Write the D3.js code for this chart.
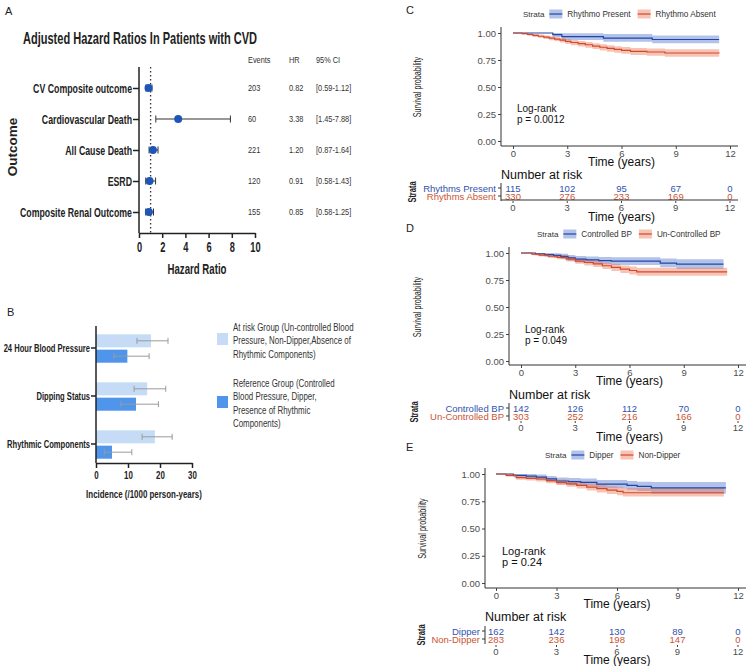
<!DOCTYPE html>
<html>
<head>
<meta charset="utf-8">
<script src="https://cdn.jsdelivr.net/npm/d3@7"></script>
<style>body{margin:0;background:#fff}</style>
</head>
<body>
<div id="fig"></div>
<script>
// ---------------- panel A : forest plot ----------------
const outcomes = ["CV Composite outcome", "Cardiovascular Death", "All Cause Death", "ESRD", "Composite Renal Outcome"]
const events = [203, 60, 221, 120, 155]
const hr = [0.82, 3.38, 1.20, 0.91, 0.85]
const ciLow = [0.59, 1.45, 0.87, 0.58, 0.58]
const ciHigh = [1.12, 7.88, 1.64, 1.43, 1.25]
const ciText = ["[0.59-1.12]", "[1.45-7.88]", "[0.87-1.64]", "[0.58-1.43]", "[0.58-1.25]"]
const hrTicks = [0, 2, 4, 6, 8, 10]

// ---------------- panel B : incidence bars ----------------
const groups = ["24 Hour Blood Pressure", "Dipping Status", "Rhythmic Components"]
const atRisk = [17.2, 16.0, 18.4]
const atRiskLo = [12.8, 11.9, 14.4]
const atRiskHi = [22.5, 21.8, 23.8]
const reference = [9.8, 12.5, 5.0]
const referenceLo = [5.6, 7.8, 2.6]
const referenceHi = [16.6, 19.5, 11.2]
const incTicks = [0, 10, 20, 30]
const legendRisk = ["At risk Group (Un-controlled Blood", "Pressure, Non-Dipper,Absence of", "Rhythmic Components)"]
const legendRef = ["Reference Group (Controlled", "Blood Pressure, Dipper,", "Presence of Rhythmic", "Components)"]

// ---------------- panels C-E : Kaplan-Meier ----------------
const survTicks = [0, 0.25, 0.5, 0.75, 1]
const timeTicks = [0, 3, 6, 9, 12]

// C  rhythmic components
const cPresentTime = [0, 2.2, 2.7, 5.0, 7.7, 11.4]
const cPresentSurv = [1, 0.985, 0.966, 0.952, 0.94, 0.94]
const cPresentLow = [1, 0.962, 0.935, 0.92, 0.905, 0.905]
const cPresentHigh = [1, 1, 0.998, 0.99, 0.978, 0.978]
const cAbsentTime = [0, 0.5, 0.8, 1.1, 1.4, 1.7, 2.0, 2.3, 2.6, 2.9, 3.2, 3.6, 4.0, 4.4, 4.8, 5.2, 5.6, 6.0, 6.5, 7.4, 8.4, 11.4]
const cAbsentSurv = [1, 0.994, 0.986, 0.978, 0.970, 0.962, 0.953, 0.944, 0.934, 0.922, 0.912, 0.902, 0.891, 0.879, 0.868, 0.857, 0.848, 0.839, 0.830, 0.824, 0.815, 0.812]
const cAbsentLow = [1, 0.986, 0.975, 0.964, 0.954, 0.945, 0.934, 0.923, 0.912, 0.899, 0.887, 0.876, 0.864, 0.851, 0.839, 0.827, 0.817, 0.807, 0.797, 0.790, 0.779, 0.775]
const cAbsentHigh = [1, 1, 0.997, 0.991, 0.985, 0.978, 0.971, 0.964, 0.955, 0.945, 0.936, 0.927, 0.917, 0.906, 0.896, 0.886, 0.878, 0.870, 0.862, 0.857, 0.849, 0.847]
const cRiskPresent = [115, 102, 95, 67, 0]
const cRiskAbsent = [330, 276, 233, 169, 0]

// D  24h blood pressure
const dCtrlTime = [0, 0.8, 1.3, 1.8, 2.2, 2.6, 3.0, 3.6, 4.3, 5.0, 7.7, 8.6, 11.2]
const dCtrlSurv = [1, 0.993, 0.985, 0.978, 0.968, 0.955, 0.944, 0.937, 0.93, 0.924, 0.907, 0.897, 0.897]
const dCtrlLow = [1, 0.98, 0.967, 0.957, 0.944, 0.928, 0.915, 0.905, 0.896, 0.888, 0.867, 0.853, 0.853]
const dCtrlHigh = [1, 1, 1, 0.998, 0.992, 0.982, 0.973, 0.968, 0.963, 0.96, 0.948, 0.941, 0.941]
const dUnTime = [0, 0.6, 1.0, 1.5, 2.0, 2.5, 3.0, 3.5, 4.0, 4.5, 5.0, 5.5, 6.0, 6.4, 11.4]
const dUnSurv = [1, 0.99, 0.98, 0.97, 0.96, 0.943, 0.925, 0.912, 0.9, 0.882, 0.866, 0.85, 0.838, 0.826, 0.826]
const dUnLow = [1, 0.98, 0.967, 0.954, 0.941, 0.921, 0.9, 0.885, 0.871, 0.851, 0.833, 0.815, 0.802, 0.789, 0.789]
const dUnHigh = [1, 1, 0.993, 0.986, 0.979, 0.965, 0.95, 0.939, 0.929, 0.913, 0.899, 0.885, 0.874, 0.863, 0.863]
const dRiskCtrl = [142, 126, 112, 70, 0]
const dRiskUn = [303, 252, 216, 166, 0]

// E  dipping status
const eDipTime = [0, 0.86, 1.5, 2.0, 2.5, 3.0, 3.6, 4.2, 5.0, 6.5, 7.0, 7.7, 11.4]
const eDipSurv = [1, 0.988, 0.98, 0.972, 0.955, 0.936, 0.93, 0.924, 0.908, 0.896, 0.887, 0.872, 0.872]
const eDipLow = [1, 0.97, 0.958, 0.948, 0.928, 0.905, 0.897, 0.889, 0.87, 0.856, 0.845, 0.818, 0.818]
const eDipHigh = [1, 1, 1, 0.996, 0.982, 0.967, 0.963, 0.959, 0.946, 0.936, 0.929, 0.927, 0.927]
const eNonTime = [0, 0.5, 1.0, 1.5, 2.0, 2.5, 3.0, 3.5, 4.0, 4.5, 5.0, 5.5, 6.0, 6.3, 11.3]
const eNonSurv = [1, 0.988, 0.966, 0.96, 0.954, 0.94, 0.924, 0.91, 0.896, 0.88, 0.865, 0.852, 0.841, 0.828, 0.828]
const eNonLow = [1, 0.975, 0.948, 0.94, 0.932, 0.916, 0.898, 0.882, 0.866, 0.848, 0.831, 0.817, 0.804, 0.794, 0.794]
const eNonHigh = [1, 1, 0.984, 0.98, 0.976, 0.964, 0.95, 0.938, 0.926, 0.912, 0.899, 0.888, 0.878, 0.871, 0.871]
const eRiskDip = [162, 142, 130, 89, 0]
const eRiskNon = [283, 236, 198, 147, 0]

// no condensed face installed -> squeeze Liberation Sans horizontally
const SANS = "'Liberation Sans',Arial,sans-serif"
const BLUE = "#2346a6", RED = "#d2492a"
const BLUE_BAND = "#5478cc", RED_BAND = "#ec7a5c"
const BLUE_TXT = "#2f52ae", RED_TXT = "#cc5430"

const svg = d3.select("#fig").append("svg")
	.attr("width", 750).attr("height", 666)
	.style("background", "#fff")

function txt(g, x, y, s, o = {}) {
	return g.append("text")
		.attr("transform", `translate(${x},${y}) rotate(${o.rot || 0}) scale(${o.sx || 1},1)`)
		.text(s)
		.attr("font-family", SANS)
		.attr("font-size", o.fs || 10)
		.attr("font-weight", o.fw || "normal")
		.attr("fill", o.fill || "#222")
		.attr("text-anchor", o.anchor || "start")
		.attr("dominant-baseline", "central")
}
// squeeze the tick texts an axis generator made
function squeeze(sel, sx, fs, left) {
	sel.selectAll("text").each(function () {
		const t = d3.select(this)
		if (left) t.attr("x", +t.attr("x") / sx)
		t.attr("transform", `scale(${sx},1)`)
	})
		.attr("font-family", SANS).attr("font-weight", "bold").attr("font-size", fs).attr("fill", "#222")
}

// ================= A =================
const gA = svg.append("g")
txt(gA, 5, 11, "A", { fs: 11 })
txt(gA, 140, 39, "Adjusted Hazard Ratios In Patients with CVD", { fw: "bold", fs: 16, sx: 0.69, anchor: "middle" })

const fx = d3.scaleLinear().domain([0, 10]).range([139, 255])
const fy = d3.scalePoint().domain(outcomes).range([88, 212])

gA.append("line").attr("x1", 139).attr("x2", 139).attr("y1", 67).attr("y2", 233).attr("stroke", "#222").attr("stroke-width", 1.5)
gA.append("g").attr("transform", "translate(139,0)")
	.call(d3.axisLeft(fy).tickSize(6).tickPadding(1))
	.call(g => g.select(".domain").remove())
	.call(g => g.selectAll("line").attr("stroke", "#222").attr("stroke-width", 1.5))
	.call(g => squeeze(g, 0.65, 13.5, true))
gA.append("g").attr("transform", "translate(0,233)")
	.call(d3.axisBottom(fx).tickValues(hrTicks).tickSize(5).tickSizeOuter(0).tickPadding(4))
	.call(g => g.selectAll("path,line").attr("stroke", "#222").attr("stroke-width", 1.5))
	.call(g => squeeze(g, 0.66, 14, false))
txt(gA, 197, 269, "Hazard Ratio", { fw: "bold", fs: 14, sx: 0.69, anchor: "middle" })
txt(gA, 12, 147, "Outcome", { fw: "bold", fs: 13.5, rot: -90, anchor: "middle" })

gA.append("line").attr("x1", fx(1)).attr("x2", fx(1)).attr("y1", 67).attr("y2", 233)
	.attr("stroke", "#333").attr("stroke-width", 1.3).attr("stroke-dasharray", "1.5,2.5")

const rowsA = gA.selectAll(".row").data(outcomes).join("g")
rowsA.append("line").attr("x1", (d, i) => fx(ciLow[i])).attr("x2", (d, i) => fx(ciHigh[i]))
	.attr("y1", d => fy(d)).attr("y2", d => fy(d)).attr("stroke", "#333").attr("stroke-width", 1)
rowsA.append("line").attr("x1", (d, i) => fx(ciLow[i])).attr("x2", (d, i) => fx(ciLow[i]))
	.attr("y1", d => fy(d) - 3.5).attr("y2", d => fy(d) + 3.5).attr("stroke", "#333")
rowsA.append("line").attr("x1", (d, i) => fx(ciHigh[i])).attr("x2", (d, i) => fx(ciHigh[i]))
	.attr("y1", d => fy(d) - 3.5).attr("y2", d => fy(d) + 3.5).attr("stroke", "#333")
rowsA.append("circle").attr("cx", (d, i) => fx(hr[i])).attr("cy", d => fy(d)).attr("r", 4).attr("fill", "#1f55b8")

const tabA = { fs: 9, sx: 0.82, fill: "#333" }
txt(gA, 248, 60, "Events", tabA)
txt(gA, 289, 60, "HR", tabA)
txt(gA, 316, 60, "95% CI", tabA)
outcomes.forEach((o, i) => {
	txt(gA, 248, fy(o), events[i], tabA)
	txt(gA, 289, fy(o), hr[i].toFixed(2), tabA)
	txt(gA, 316, fy(o), ciText[i], tabA)
})

// ================= B =================
const gB = svg.append("g")
txt(gB, 7, 312, "B", { fs: 11 })
const bx = d3.scaleLinear().domain([0, 30]).range([96, 192])
const by = d3.scaleBand().domain(groups).range([324, 468])
const bsub = d3.scaleBand().domain(["risk", "ref"]).range([8, 41]).padding(0.15)
const LIGHT = "#c6dcf6", DARK = "#4f95ec"

const barRows = groups.map((g, i) => ({ g, risk: [atRisk[i], atRiskLo[i], atRiskHi[i]], ref: [reference[i], referenceLo[i], referenceHi[i]] }))
barRows.forEach(r => {
	[["risk", LIGHT], ["ref", DARK]].forEach(([k, col]) => {
		const y0 = by(r.g) + bsub(k), h = bsub.bandwidth(), cy = y0 + h / 2
		gB.append("rect").attr("x", bx(0)).attr("y", y0).attr("width", bx(r[k][0]) - bx(0)).attr("height", h).attr("fill", col)
		gB.append("line").attr("x1", bx(r[k][1])).attr("x2", bx(r[k][2])).attr("y1", cy).attr("y2", cy).attr("stroke", "#9a9a9a")
		gB.append("line").attr("x1", bx(r[k][2])).attr("x2", bx(r[k][2])).attr("y1", cy - 3).attr("y2", cy + 3).attr("stroke", "#9a9a9a")
		gB.append("line").attr("x1", bx(r[k][1])).attr("x2", bx(r[k][1])).attr("y1", cy - 3).attr("y2", cy + 3).attr("stroke", "#9a9a9a")
	})
})
gB.append("line").attr("x1", 96).attr("x2", 96).attr("y1", 326).attr("y2", 463).attr("stroke", "#222").attr("stroke-width", 1.5)
gB.append("g").attr("transform", "translate(96,0)")
	.call(d3.axisLeft(by).tickSize(5).tickPadding(1))
	.call(g => g.select(".domain").remove())
	.call(g => g.selectAll("line").attr("stroke", "#222").attr("stroke-width", 1.5))
	.call(g => squeeze(g, 0.69, 11, true))
gB.append("g").attr("transform", "translate(0,463)")
	.call(d3.axisBottom(bx).tickValues(incTicks).tickSize(5).tickSizeOuter(0).tickPadding(3))
	.call(g => g.selectAll("path,line").attr("stroke", "#222").attr("stroke-width", 1.5))
	.call(g => squeeze(g, 0.72, 11, false))
txt(gB, 144, 494, "Incidence (/1000 person-years)", { fw: "bold", fs: 11.5, sx: 0.69, anchor: "middle" })

const legB = { fs: 11, sx: 0.72, fill: "#333" }
gB.append("rect").attr("x", 217).attr("y", 333).attr("width", 11).attr("height", 12).attr("fill", LIGHT)
legendRisk.forEach((s, i) => txt(gB, 233, 327 + i * 13.3, s, legB))
gB.append("rect").attr("x", 217).attr("y", 396).attr("width", 11).attr("height", 12).attr("fill", DARK)
legendRef.forEach((s, i) => txt(gB, 233, 383 + i * 13.3, s, legB))

// ================= C-E =================
const kmPanels = [
	{
		letter: "C", letterY: 10, legendX: 523, legendY: 14, names: ["Rhythmo Present", "Rhythmo Absent"],
		rowNames: ["Rhythms Present", "Rhythms Absent"], p: "p = 0.0012",
		series: [[cPresentTime, cPresentSurv, cPresentLow, cPresentHigh], [cAbsentTime, cAbsentSurv, cAbsentLow, cAbsentHigh]],
		risk: [cRiskPresent, cRiskAbsent],
		axisX: 501, x0: 513, x1: 730, yTop: 33, yBot: 141, axisY: 146, titleY: 162, ylabX: 418,
		logX: 517, logY: 108, riskY: 175, rowY: [188, 196], riskLine: 200, riskTickY: 207, riskTitleY: 217, strataX: 413, logFs: 10
	},
	{
		letter: "D", letterY: 228, legendX: 537, legendY: 234, names: ["Controlled BP", "Un-Controlled BP"],
		rowNames: ["Controlled BP", "Un-Controlled BP"], p: "p = 0.049",
		series: [[dCtrlTime, dCtrlSurv, dCtrlLow, dCtrlHigh], [dUnTime, dUnSurv, dUnLow, dUnHigh]],
		risk: [dRiskCtrl, dRiskUn],
		axisX: 509, x0: 521, x1: 738, yTop: 253, yBot: 361, axisY: 365, titleY: 381, ylabX: 418,
		logX: 525, logY: 329, riskY: 395, rowY: [408, 416], riskLine: null, riskTickY: 427, riskTitleY: 437, strataX: 415, logFs: 10
	},
	{
		letter: "E", letterY: 447, legendX: 545, legendY: 455, names: ["Dipper", "Non-Dipper"],
		rowNames: ["Dipper", "Non-Dipper"], p: "p = 0.24",
		series: [[eDipTime, eDipSurv, eDipLow, eDipHigh], [eNonTime, eNonSurv, eNonLow, eNonHigh]],
		risk: [eRiskDip, eRiskNon],
		axisX: 485, x0: 496, x1: 738, yTop: 474, yBot: 583, axisY: 588, titleY: 604, ylabX: 423,
		logX: 502, logY: 551, riskY: 617, rowY: [631, 639], riskLine: null, riskTickY: 651, riskTitleY: 660, strataX: 422, logFs: 11
	}
]
const lineCol = [BLUE, RED], bandCol = [BLUE_BAND, RED_BAND], txtCol = [BLUE_TXT, RED_TXT]

kmPanels.forEach(p => {
	const g = svg.append("g")
	txt(g, 406, p.letterY, p.letter, { fs: 11 })
	const x = d3.scaleLinear().domain([0, 12]).range([p.x0, p.x1])
	const y = d3.scaleLinear().domain([0, 1]).range([p.yBot, p.yTop])

	// legend
	let lx = p.legendX
	const st = txt(g, lx, p.legendY, "Strata", { fs: 8, fill: "#333" })
	lx += st.node().getComputedTextLength() + 5
	p.names.forEach((n, i) => {
		g.append("rect").attr("x", lx).attr("y", p.legendY - 4.5).attr("width", 13).attr("height", 9)
			.attr("fill", bandCol[i]).attr("fill-opacity", 0.45)
		g.append("line").attr("x1", lx).attr("x2", lx + 13).attr("y1", p.legendY).attr("y2", p.legendY).attr("stroke", lineCol[i]).attr("stroke-width", 1.2)
		lx += 18
		const t = txt(g, lx, p.legendY, n, { fs: 8.2, fill: "#333" })
		lx += t.node().getComputedTextLength() + 7
	})

	// curves
	p.series.forEach((s, i) => {
		const pts = s[0].map((t, k) => ({ t, lo: s[2][k], hi: s[3][k] }))
		g.append("path").datum(pts)
			.attr("d", d3.area().curve(d3.curveStepAfter).x(d => x(d.t)).y0(d => y(d.lo)).y1(d => y(d.hi)))
			.attr("fill", bandCol[i]).attr("fill-opacity", 0.45)
	})
	p.series.forEach((s, i) => {
		const pts = s[0].map((t, k) => ({ t, s: s[1][k] }))
		g.append("path").datum(pts)
			.attr("d", d3.line().curve(d3.curveStepAfter).x(d => x(d.t)).y(d => y(d.s)))
			.attr("fill", "none").attr("stroke", lineCol[i]).attr("stroke-width", 1.2)
	})

	// axes
	g.append("g").attr("transform", `translate(${p.axisX},0)`)
		.call(d3.axisLeft(y).tickValues(survTicks).tickFormat(d3.format(".2f")).tickSize(3).tickPadding(2))
		.call(a => a.select(".domain").remove())
		.call(a => a.selectAll("line").attr("stroke", "#444"))
		.selectAll("text").attr("font-family", SANS).attr("font-size", 9.5).attr("fill", "#4d4d4d")
	g.append("line").attr("x1", p.axisX).attr("x2", p.axisX).attr("y1", p.yTop - 6).attr("y2", p.axisY).attr("stroke", "#333")
	g.append("g").attr("transform", `translate(0,${p.axisY})`)
		.call(d3.axisBottom(x).tickValues(timeTicks).tickSize(3).tickPadding(1))
		.call(a => a.select(".domain").remove())
		.call(a => a.selectAll("line").attr("stroke", "#444"))
		.selectAll("text").attr("font-family", SANS).attr("font-size", 9.5).attr("fill", "#4d4d4d")
	g.append("line").attr("x1", p.axisX).attr("x2", p.x1 + 8).attr("y1", p.axisY).attr("y2", p.axisY).attr("stroke", "#333")
	txt(g, (p.x0 + p.x1) / 2, p.titleY, "Time (years)", { fs: 12, fill: "#111", anchor: "middle" })
	txt(g, p.ylabX, (p.yTop + p.yBot) / 2, "Survival probability", { fs: 10, sx: 0.72, rot: -90, fill: "#222", anchor: "middle" })
	txt(g, p.logX, p.logY, "Log-rank", { fs: p.logFs, fill: "#111" })
	txt(g, p.logX, p.logY + 11, p.p, { fs: p.logFs, fill: "#111" })

	// risk table
	txt(g, p.axisX, p.riskY, "Number at risk", { fs: 12.5, fill: "#111" })
	g.append("line").attr("x1", p.axisX).attr("x2", p.axisX).attr("y1", p.rowY[0] - 5).attr("y2", p.rowY[1] + 5).attr("stroke", "#333")
	p.risk.forEach((r, i) => {
		g.append("line").attr("x1", p.axisX - 3).attr("x2", p.axisX).attr("y1", p.rowY[i]).attr("y2", p.rowY[i]).attr("stroke", "#333")
		txt(g, p.axisX - 5, p.rowY[i], p.rowNames[i], { fs: 9.5, fill: txtCol[i], anchor: "end" })
		timeTicks.forEach((t, k) => txt(g, x(t), p.rowY[i], r[k], { fs: 9.5, fill: txtCol[i], anchor: "middle" }))
	})
	if (p.riskLine) g.append("line").attr("x1", p.axisX).attr("x2", p.x1 + 8).attr("y1", p.riskLine).attr("y2", p.riskLine).attr("stroke", "#333")
	timeTicks.forEach(t => {
		g.append("line").attr("x1", x(t)).attr("x2", x(t)).attr("y1", p.riskTickY - 6).attr("y2", p.riskTickY - 4).attr("stroke", "#444")
		txt(g, x(t), p.riskTickY, t, { fs: 9.5, fill: "#4d4d4d", anchor: "middle" })
	})
	txt(g, (p.x0 + p.x1) / 2, p.riskTitleY, "Time (years)", { fs: 12, fill: "#111", anchor: "middle" })
	txt(g, p.strataX, (p.rowY[0] + p.rowY[1]) / 2, "Strata", { fs: 10, sx: 0.75, fw: "bold", rot: -90, fill: "#222", anchor: "middle" })
})
</script>
</body>
</html>
